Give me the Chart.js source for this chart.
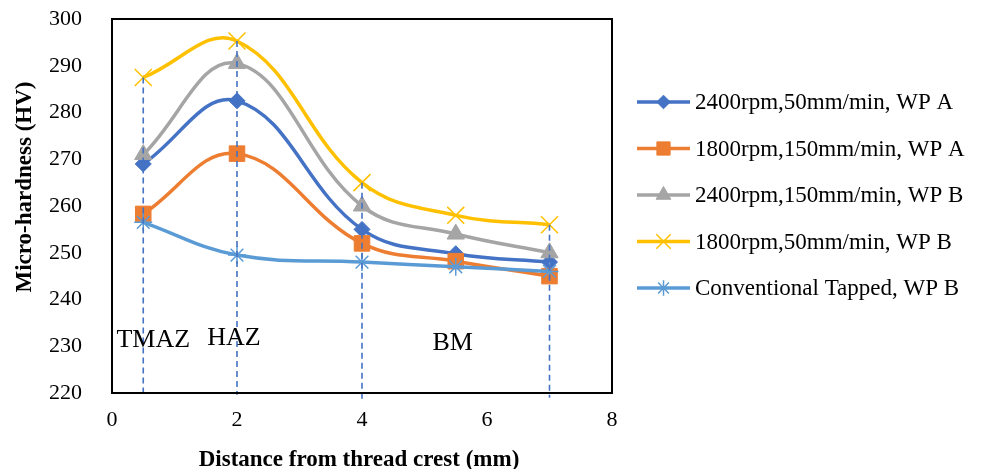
<!DOCTYPE html>
<html>
<head>
<meta charset="utf-8">
<script src="https://cdn.jsdelivr.net/npm/chart.js@4.4.1/dist/chart.umd.min.js"></script>
<style>
  html, body { margin:0; padding:0; background:#fff; }
  #wrap { width:984px; height:469px; }
</style>
</head>
<body>
<div id="wrap"><canvas id="chart" width="984" height="469"></canvas></div>
<script>
// data
const distances = [0.5, 2, 4, 5.5, 7];
const seriesNames = [
  "2400rpm,50mm/min, WP A",
  "1800rpm,150mm/min, WP A",
  "2400rpm,150mm/min, WP B",
  "1800rpm,50mm/min, WP B",
  "Conventional Tapped, WP B"
];
const hv2400_50A  = [269, 282.5, 255, 249.8, 248];
const hv1800_150A = [258.3, 271.2, 252, 248.2, 245];
const hv2400_150B = [271, 290.5, 260, 254, 250];
const hv1800_50B  = [287.5, 295.3, 265, 258, 256];
const hvConvB     = [256.5, 249.5, 248, 247, 246];

// zone marker lines (x, top value) and zone labels
const zoneX   = [0.5, 2, 4, 7];
const zoneTop = [287.5, 295.3, 265, 256];
const zoneBottom = [219.5, 219.6, 218.5, 219];
const zoneNames = ["TMAZ", "HAZ", "BM"];
const zoneLabelX = [0.66, 1.95, 5.45];
const zoneLabelY = [231.3, 231.7, 230.6];

const yTicks = [220, 230, 240, 250, 260, 270, 280, 290, 300];
const xTicks = [0, 2, 4, 6, 8];

const colors = ["#4472C4", "#ED7D31", "#A5A5A5", "#FFC000", "#5B9BD5"];
const styles = ["rectRot", "rect", "triangle", "crossRot", "star"];
const radii  = [8, 11, 10, 12, 9];
const allSeries = [hv2400_50A, hv1800_150A, hv2400_150B, hv1800_50B, hvConvB];

const serif = "'Liberation Serif', 'Times New Roman', serif";

function pts(vals){ return distances.map((x,i)=>({x, y: vals[i]})); }

const datasets = allSeries.map((vals, i)=>({
  label: seriesNames[i],
  data: pts(vals),
  borderColor: colors[i],
  backgroundColor: colors[i],
  pointBorderColor: colors[i],
  pointBackgroundColor: colors[i],
  pointStyle: styles[i],
  pointRadius: radii[i],
  pointBorderWidth: (i >= 3) ? 1.5 : 1,
  borderWidth: 3.5,
  tension: 0.4,
  showLine: true,
  order: 5 - i
}));

// dashed zone lines
zoneX.forEach((x, i)=>{
  datasets.push({
    label: "_zone" + i,
    data: [{x, y: zoneTop[i]}, {x, y: zoneBottom[i]}],
    borderColor: "#4472C4",
    borderWidth: 1.6,
    borderDash: [6, 4],
    pointRadius: 0,
    showLine: true,
    clip: false,
    order: 0
  });
});

const framePlugin = {
  id: "frame",
  afterDraw(chart){
    const {ctx, chartArea: a, scales} = chart;
    ctx.save();
    // plot box
    ctx.strokeStyle = "#000";
    ctx.lineWidth = 2;
    ctx.strokeRect(a.left, a.top, a.right - a.left, a.bottom - a.top);
    // zone labels
    ctx.fillStyle = "#000";
    ctx.font = "26px " + serif;
    ctx.textAlign = "center";
    ctx.textBaseline = "middle";
    zoneNames.forEach((t, i)=>{
      ctx.fillText(t, scales.x.getPixelForValue(zoneLabelX[i]), scales.y.getPixelForValue(zoneLabelY[i]));
    });
    // axis titles
    ctx.font = "bold 23px " + serif;
    ctx.fillText("Distance from thread crest (mm)", (a.left + a.right) / 2 - 3, 460);
    ctx.save();
    ctx.translate(25, 187);
    ctx.rotate(-Math.PI/2);
    ctx.fillText("Micro-hardness (HV)", 0, 0);
    ctx.restore();
    // legend
    ctx.font = "23px " + serif;
    ctx.textAlign = "left";
    seriesNames.forEach((name, i)=>{
      const y = 102 + i * 46.5;
      const x0 = a.right + 25, x1 = a.right + 78;
      ctx.strokeStyle = colors[i];
      ctx.fillStyle = colors[i];
      ctx.lineWidth = 3.5;
      ctx.beginPath(); ctx.moveTo(x0, y); ctx.lineTo(x1, y); ctx.stroke();
      const bw = (i >= 3) ? 1.5 : 1;
      ctx.lineWidth = bw;
      Chart.helpers.drawPoint(ctx, {pointStyle: styles[i], radius: radii[i] * 0.85, rotation: 0, borderWidth: bw}, (x0 + x1) / 2, y);
      ctx.fillStyle = "#000";
      ctx.fillText(name, a.right + 83, y + 1);
    });
    ctx.restore();
  }
};

new Chart(document.getElementById("chart"), {
  type: "scatter",
  data: { datasets },
  options: {
    responsive: false,
    animation: false,
    layout: { padding: { top: 19, right: 372, left: 0, bottom: 0 } },
    plugins: { legend: { display: false }, tooltip: { enabled: false } },
    scales: {
      x: {
        type: "linear", min: 0, max: 8,
        afterBuildTicks: (s)=>{ s.ticks = xTicks.map(v=>({value: v})); },
        afterFit: (s)=>{ s.height = 76; s.paddingLeft = 0; s.paddingRight = 0; },
        grid: { display: false, drawTicks: false },
        border: { display: false },
        ticks: { color: "#000", padding: 14, font: { family: serif, size: 22 } }
      },
      y: {
        type: "linear", min: 220, max: 300,
        afterBuildTicks: (s)=>{ s.ticks = yTicks.map(v=>({value: v})); },
        afterFit: (s)=>{ s.width = 112; s.paddingTop = 0; s.paddingBottom = 0; },
        grid: { display: false, drawTicks: false },
        border: { display: false },
        ticks: { color: "#000", padding: 30, font: { family: serif, size: 22 } }
      }
    }
  },
  plugins: [framePlugin]
});
</script>
</body>
</html>
